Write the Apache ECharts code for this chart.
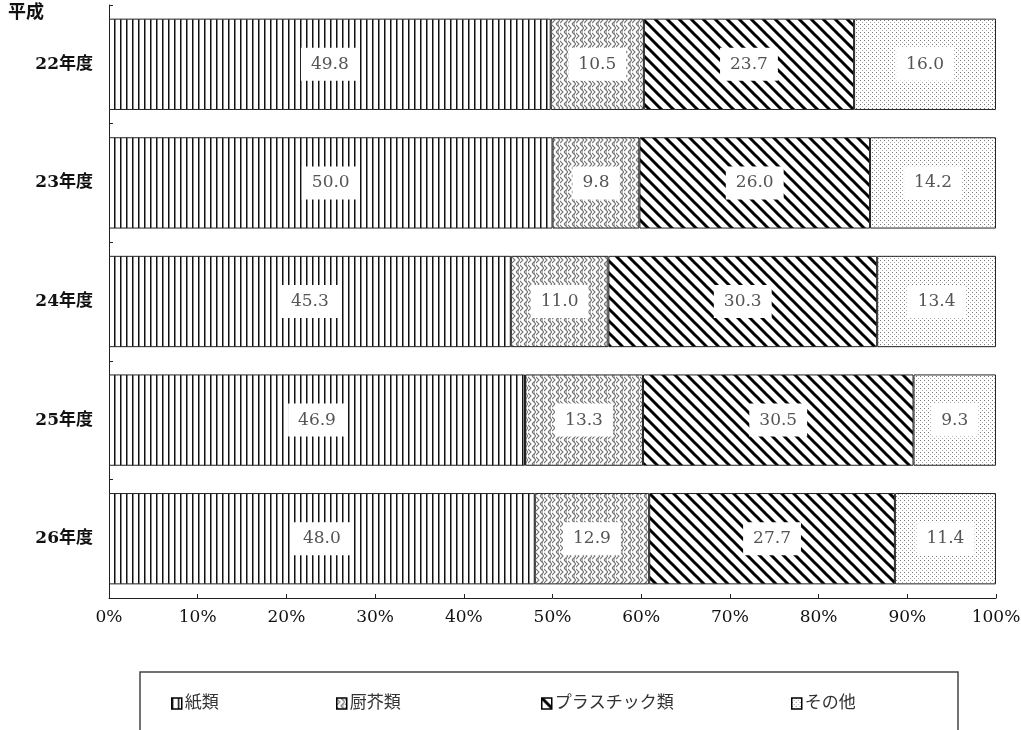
<!DOCTYPE html>
<html>
<head>
<meta charset="utf-8">
<script src="https://cdn.jsdelivr.net/npm/echarts@6/dist/echarts.min.js"></script>
<style>
  html, body { margin: 0; padding: 0; background: #fff; }
  #chart { width: 1021px; height: 730px; }
</style>
</head>
<body>
<div id="chart"></div>
<script>
// Composition of waste by fiscal year (percent)
const years = ['22年度', '23年度', '24年度', '25年度', '26年度'];
const seriesNames = ['紙類', '厨芥類', 'プラスチック類', 'その他'];
const paper = [49.8, 50.0, 45.3, 46.9, 48.0];
const kitchen = [10.5, 9.8, 11.0, 13.3, 12.9];
const plastic = [23.7, 26.0, 30.3, 30.5, 27.7];
const other = [16.0, 14.2, 13.4, 9.3, 11.4];
const seriesValues = [paper, kitchen, plastic, other];

const SERIF = "'DejaVu Serif', 'Liberation Serif', 'Noto Sans CJK JP', serif";

function makeCanvas(w, h, draw) {
  const c = document.createElement('canvas');
  c.width = w; c.height = h;
  const ctx = c.getContext('2d');
  ctx.fillStyle = '#fff';
  ctx.fillRect(0, 0, w, h);
  draw(ctx);
  return c;
}

// vertical stripes
const vStripe = makeCanvas(6, 6, ctx => {
  ctx.fillStyle = '#111';
  ctx.fillRect(0, 0, 1, 6);
  ctx.fillStyle = '#888';
  ctx.fillRect(1, 0, 1, 6);
});

// woven zigzag
const weave = makeCanvas(8, 8, ctx => {
  ctx.strokeStyle = '#777';
  ctx.lineWidth = 1.1;
  ctx.beginPath();
  ctx.moveTo(0, 1); ctx.lineTo(3, 4); ctx.lineTo(0, 7);
  ctx.moveTo(4, 0); ctx.lineTo(8, 4);
  ctx.moveTo(4, 8); ctx.lineTo(8, 4);
  ctx.moveTo(5, 1); ctx.lineTo(7, 1);
  ctx.moveTo(5, 7); ctx.lineTo(7, 7);
  ctx.stroke();
});

// heavy diagonal hatch
const diag = makeCanvas(12, 12, ctx => {
  ctx.strokeStyle = '#000';
  ctx.lineWidth = 3;
  ctx.beginPath();
  ctx.moveTo(-6, -6); ctx.lineTo(18, 18);
  ctx.moveTo(-6, 6); ctx.lineTo(6, 18);
  ctx.moveTo(6, -6); ctx.lineTo(18, 6);
  ctx.stroke();
});

// fine dots
const dots = makeCanvas(4, 4, ctx => {
  ctx.fillStyle = '#777';
  ctx.fillRect(0, 0, 1, 1);
  ctx.fillStyle = '#aaa';
  ctx.fillRect(2, 2, 1, 1);
});

const patterns = [vStripe, weave, diag, dots];

const series = seriesNames.map((name, i) => ({
  name: name,
  type: 'bar',
  stack: 'total',
  barWidth: '77%',
  data: seriesValues[i],
  itemStyle: {
    color: { image: patterns[i], repeat: 'repeat' },
    borderColor: '#222',
    borderWidth: 1
  },
  label: {
    show: true,
    position: 'inside',
    formatter: p => p.value.toFixed(1),
    fontFamily: SERIF,
    fontSize: 17,
    color: '#555',
    backgroundColor: '#fff',
    padding: [8, 10]
  },
  emphasis: { disabled: true }
}));

const legendLefts = [166, 331, 536, 786];
const legends = seriesNames.map((name, i) => ({
  data: [name],
  left: legendLefts[i],
  top: 690,
  itemWidth: 10,
  itemHeight: 11,
  itemGap: 0,
  icon: 'rect',
  itemStyle: { borderColor: '#000', borderWidth: 1.5 },
  textStyle: { fontFamily: SERIF, fontSize: 17, color: '#333', padding: [0, 0, 0, -2] }
}));

const chart = echarts.init(document.getElementById('chart'));
chart.setOption({
  animation: false,
  backgroundColor: '#fff',
  grid: { left: 109, right: 25, top: 5, bottom: 132, containLabel: false, outerBoundsMode: 'none' },
  xAxis: {
    type: 'value',
    min: 0,
    max: 100,
    interval: 10,
    axisLine: { show: true, lineStyle: { color: '#222', width: 1 } },
    axisTick: { show: true, inside: true, length: 4, lineStyle: { color: '#222' } },
    splitLine: { show: false },
    axisLabel: { formatter: '{value}%', fontFamily: SERIF, fontSize: 17, color: '#111', margin: 11 }
  },
  yAxis: {
    type: 'category',
    data: years,
    inverse: true,
    axisLine: { show: true, lineStyle: { color: '#222', width: 1 } },
    axisTick: { show: true, inside: true, length: 4, lineStyle: { color: '#222' } },
    axisLabel: { fontFamily: SERIF, fontSize: 17, fontWeight: 'bold', color: '#111', margin: 16 }
  },
  legend: legends,
  graphic: [
    {
      type: 'text',
      left: 8,
      top: 4,
      style: { text: '平成', font: "bold 18px " + SERIF, fill: '#111' }
    },
    {
      type: 'rect',
      shape: { x: 140, y: 672, width: 818, height: 70 },
      style: { fill: 'none', stroke: '#444', lineWidth: 1.5 },
      z: 0
    }
  ],
  series: series
});
</script>
</body>
</html>
